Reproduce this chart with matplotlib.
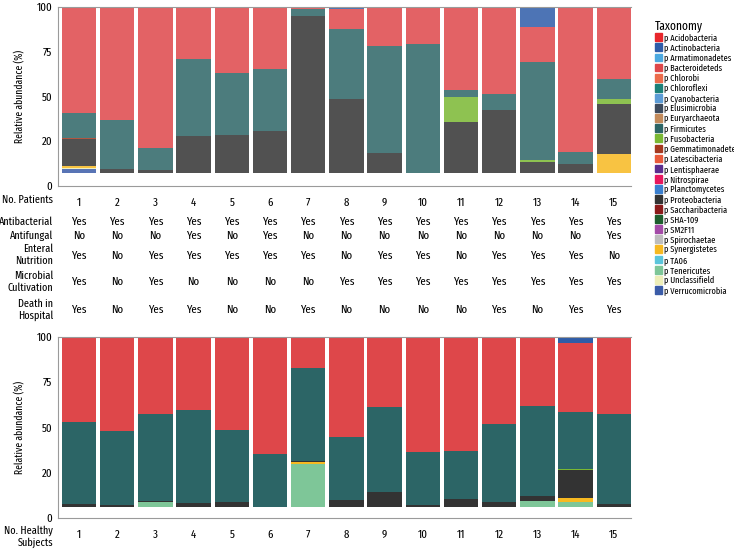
import numpy as np
import matplotlib
matplotlib.use('Agg')
import matplotlib.pyplot as plt
import matplotlib.transforms as mtransforms
from matplotlib.patches import Patch

plt.rcParams['font.family'] = ['Fira Sans Extra Condensed', 'PT Sans Narrow', 'DejaVu Sans']

# legend taxa and colours
taxa = ['Acidobacteria', 'Actinobacteria', 'Armatimonadetes', 'Bacteroideteds', 'Chlorobi',
        'Chloroflexi', 'Cyanobacteria', 'Elusimicrobia', 'Euryarchaeota', 'Firmicutes',
        'Fusobacteria', 'Gemmatimonadetes', 'Latescibacteria', 'Lentisphaerae', 'Nitrospirae',
        'Planctomycetes', 'Proteobacteria', 'Saccharibacteria', 'SHA-109', 'SM2F11',
        'Spirochaetae', 'Synergistetes', 'TA06', 'Tenericutes', 'Unclassifield', 'Verrucomicrobia']
colors = ['#e8262b', '#2e5ca8', '#4ca9e0', '#de474a', '#ec6b4a',
          '#1b8078', '#5b9bd5', '#3d4a5c', '#c38a5a', '#2c6566',
          '#7ab833', '#a5381f', '#e85a3a', '#5b2d8e', '#e8175d',
          '#3a7fcf', '#333333', '#8b1a1a', '#1d5e2e', '#a44ba8',
          '#bdbdbd', '#f7b921', '#5bc5db', '#7ec698', '#eeeeb8', '#3b5ca8']
cmap = dict(zip(taxa, colors))

samples = list(range(1, 16))

# patients (segment heights, bottom -> top)
p_verruco   = [2.3, 0, 0, 0, 0, 0, 0, 0, 0, 0, 0, 0, 0, 0, 0]
p_unclass   = [0.7, 0, 0, 0, 0, 0, 0, 0, 0, 0, 0, 0, 0, 0, 0]
p_synerg    = [1.0, 0, 0, 0, 0, 0, 0, 0, 0, 0, 0, 0, 0, 0, 10.9]
p_sacchari  = [0, 0, 0, 0, 0, 0, 0, 0.5, 0, 0, 0, 0, 0, 0, 0]
p_sha109    = [0, 0, 0, 0, 0, 0, 0, 0, 0.5, 0, 0, 0, 0, 0, 0]
p_proteo    = [15.1, 2.3, 1.9, 20.9, 21.5, 23.7, 88.0, 41.3, 11.1, 0, 28.8, 35.5, 6.4, 5.1, 27.9]
p_gemmat    = [0.5, 0, 0, 0, 0, 0, 0, 0, 0, 0, 0, 0, 0, 0, 0]
p_fuso      = [0, 0, 0, 0, 0, 0, 0, 0, 0, 0, 13.8, 0, 1.3, 0.4, 3.0]
p_firmi     = [14.0, 27.6, 12.5, 43.1, 34.5, 34.5, 4.0, 38.9, 59.6, 72.2, 3.9, 8.7, 54.8, 6.5, 10.8]
p_bactero   = [58.8, 63.1, 78.6, 29.0, 36.5, 34.8, 1.0, 11.2, 21.8, 20.8, 46.5, 48.8, 19.1, 81.0, 40.4]
p_actino    = [0, 0, 0, 0, 0, 0, 0, 1.1, 0, 0, 0, 0, 11.4, 0, 0]
p_lentis    = [0.6, 0, 0, 0, 0.5, 0, 0, 0, 0, 0, 0, 0, 0, 0, 0]

# healthy subjects
h_teneri    = [0, 0, 2.6, 0, 0, 0, 24.0, 0, 0, 0, 0, 0, 3.5, 2.8, 0]
h_synerg    = [0, 0, 0, 0, 0, 0, 0.9, 0, 0, 0, 0, 0, 0, 2.2, 0]
h_proteo    = [2.0, 1.3, 0.9, 2.2, 2.6, 0, 0.6, 4.2, 8.1, 1.1, 4.6, 2.6, 2.8, 15.3, 2.0]
h_fuso      = [0, 0, 0, 0, 0, 0, 0, 0, 0, 0, 0, 0, 0, 0.9, 0]
h_firmi     = [44.9, 40.7, 47.9, 51.2, 40.0, 29.2, 51.2, 34.3, 47.5, 29.4, 26.4, 43.5, 49.7, 31.1, 49.4]
h_bactero   = [47.1, 52.0, 42.6, 40.6, 51.4, 64.8, 16.7, 55.5, 38.4, 63.5, 63.0, 47.9, 38.0, 38.5, 42.1]
h_actino    = [0, 0, 0, 0, 0, 0, 0, 0, 0, 0, 0, 0, 0, 3.2, 0]
h_lentis    = [0, 0, 0, 0, 0, 0, 0.6, 0, 0, 0, 0, 0, 0, 0, 0.5]

patients = [('Verrucomicrobia', p_verruco), ('Unclassifield', p_unclass), ('Synergistetes', p_synerg),
            ('Saccharibacteria', p_sacchari), ('SHA-109', p_sha109), ('Proteobacteria', p_proteo),
            ('Gemmatimonadetes', p_gemmat), ('Fusobacteria', p_fuso), ('Firmicutes', p_firmi),
            ('Bacteroideteds', p_bactero), ('Actinobacteria', p_actino), ('Lentisphaerae', p_lentis)]
healthy = [('Tenericutes', h_teneri), ('Synergistetes', h_synerg), ('Proteobacteria', h_proteo),
           ('Fusobacteria', h_fuso), ('Firmicutes', h_firmi), ('Bacteroideteds', h_bactero),
           ('Actinobacteria', h_actino), ('Lentisphaerae', h_lentis)]

# clinical table
row_names = ['Antibacterial', 'Antifungal', 'Enteral\nNutrition', 'Microbial\nCultivation', 'Death in\nHospital']
antibacterial = ['Yes'] * 15
antifungal = ['No', 'No', 'No', 'Yes', 'No', 'Yes', 'No', 'No', 'No', 'No', 'No', 'No', 'No', 'No', 'Yes']
enteral = ['Yes', 'No', 'Yes', 'Yes', 'Yes', 'Yes', 'Yes', 'No', 'Yes', 'Yes', 'No', 'Yes', 'Yes', 'Yes', 'No']
cultivation = ['Yes', 'No', 'Yes', 'No', 'No', 'No', 'No', 'Yes', 'Yes', 'Yes', 'Yes', 'Yes', 'Yes', 'Yes', 'Yes']
death = ['Yes', 'No', 'Yes', 'Yes', 'No', 'No', 'Yes', 'No', 'No', 'No', 'No', 'Yes', 'No', 'Yes', 'Yes']
table = [antibacterial, antifungal, enteral, cultivation, death]

yticks = [0, 25, 50, 75, 100]
ytick_labels = ['0', '20', '50', '75', '100']

W, H = 734, 551
fig = plt.figure(figsize=(W / 100, H / 100), dpi=100)
ax1 = fig.add_axes([58 / W, 1 - 186 / H, 573 / W, 179 / H])
ax2 = fig.add_axes([58 / W, 1 - 518 / H, 573 / W, 181 / H])


def stacked(ax, layers, base, alpha):
    bottom = np.full(15, base, dtype=float)
    for name, vals in layers:
        vals = np.array(vals, dtype=float)
        ax.bar(samples, vals, bottom=bottom, width=0.9, color=cmap[name], alpha=alpha, linewidth=0)
        bottom += vals
    ax.set_xlim(0.45, 15.45)
    ax.set_ylim(0, 100)
    ax.set_yticks(yticks)
    ax.set_yticklabels(ytick_labels)
    ax.set_xticks(samples)
    ax.tick_params(length=0, labelsize=8.5, pad=4)
    ax.tick_params(axis='x', pad=8)
    ax.spines['right'].set_visible(False)
    for s in ['left', 'top', 'bottom']:
        ax.spines[s].set_color('#9a9a9a')
    ax.set_ylabel('Relative abundance (%)', fontsize=7.5, labelpad=8)


stacked(ax1, patients, 7, 0.85)
stacked(ax2, healthy, 6, 1.0)

fig.text(53 / W, 1 - 200 / H, 'No. Patients', ha='right', va='center', fontsize=8)
fig.text(53 / W, 1 - 537 / H, 'No. Healthy\nSubjects', ha='right', va='center', fontsize=8,
         linespacing=1.15)

row_y = [222, 236, 256, 282, 310]
label_y = [222, 236, 255, 282, 310]
trans = mtransforms.blended_transform_factory(ax1.transData, fig.transFigure)
for name, vals, py, ly in zip(row_names, table, row_y, label_y):
    fig.text(53 / W, 1 - ly / H, name, ha='right', va='center', fontsize=8, linespacing=1.15)
    for x, v in zip(samples, vals):
        ax1.text(x, 1 - py / H, v, transform=trans, ha='center', va='center', fontsize=8.5)

handles = [Patch(color=c, label='p ' + t) for t, c in zip(taxa, colors)]
leg = fig.legend(handles=handles, loc='upper left', bbox_to_anchor=(650 / W, 1 - 15 / H),
                 frameon=False, fontsize=6.5, title='Taxonomy', title_fontsize=9,
                 handlelength=0.8, handleheight=0.95, handletextpad=0.3, labelspacing=0.12,
                 borderpad=0, alignment='left')

fig.savefig('out.png', dpi=100)
